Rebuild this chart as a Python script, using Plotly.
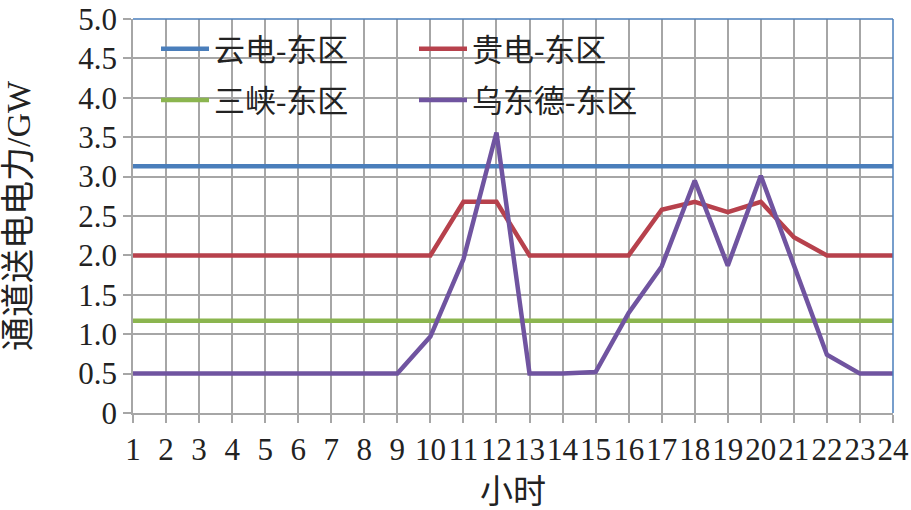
import plotly.graph_objects as go

hours = list(range(1, 25))
yundian = [3.13] * 24
guidian = [2.0, 2.0, 2.0, 2.0, 2.0, 2.0, 2.0, 2.0, 2.0, 2.0, 2.68, 2.68,
           2.0, 2.0, 2.0, 2.0, 2.58, 2.68, 2.55, 2.68, 2.23, 2.0, 2.0, 2.0]
sanxia = [1.17] * 24
wudongde = [0.5, 0.5, 0.5, 0.5, 0.5, 0.5, 0.5, 0.5, 0.5, 0.97, 1.95, 3.56,
            0.5, 0.5, 0.52, 1.27, 1.86, 2.95, 1.87, 3.01, 1.86, 0.74, 0.5, 0.5]
y_ticks = [0, 0.5, 1.0, 1.5, 2.0, 2.5, 3.0, 3.5, 4.0, 4.5, 5.0]
y_ticktext = ["0", "0.5", "1.0", "1.5", "2.0", "2.5", "3.0", "3.5", "4.0", "4.5", "5.0"]

names = ["云电-东区", "贵电-东区", "三峡-东区", "乌东德-东区"]
colors = ["#4a7ebb", "#b7414c", "#8bb54f", "#7054a0"]
series = [yundian, guidian, sanxia, wudongde]
legend_ids = ["legend", "legend2", "legend", "legend2"]

FONT = "Times New Roman, Noto Sans CJK SC"
TXT = "#222222"

fig = go.Figure()
for name, col, vals, lg in zip(names, colors, series, legend_ids):
    fig.add_trace(go.Scatter(
        x=hours, y=vals, mode="lines", name=name,
        line=dict(color=col, width=4.5),
        legend=lg, legendgroup=name, cliponaxis=False,
    ))

# plot-area frame: top and right edges in blue
fig.add_shape(type="line", xref="paper", yref="paper", x0=0, x1=1, y0=1, y1=1,
              line=dict(color="#4a7ebb", width=1.5), layer="above")
fig.add_shape(type="line", xref="paper", yref="paper", x0=1, x1=1, y0=0, y1=1,
              line=dict(color="#4a7ebb", width=1.5), layer="above")
# white legend background box hiding gridlines
fig.add_shape(type="rect", xref="paper", yref="paper",
              x0=(150 - 133) / 760, x1=(692 - 133) / 760,
              y0=(413 - 125) / 394, y1=(413 - 22) / 394,
              fillcolor="white", line=dict(width=0), layer="between")

legend_common = dict(
    font=dict(family=FONT, size=31, color=TXT),
    bgcolor="rgba(0,0,0,0)", borderwidth=0,
    orientation="v", traceorder="grouped", tracegroupgap=8,
    itemwidth=48, xanchor="left", yanchor="top",
)

fig.update_layout(
    width=911, height=510,
    margin=dict(l=133, r=18, t=19, b=97, autoexpand=False),
    paper_bgcolor="white", plot_bgcolor="white",
    font=dict(family=FONT, size=30, color=TXT),
    showlegend=True,
    legend=dict(x=(156 - 133) / 760, y=(413 - 22) / 394, **legend_common),
    legend2=dict(x=(414 - 133) / 760, y=(413 - 22) / 394, **legend_common),
    xaxis=dict(
        range=[1, 24], tickmode="array", tickvals=hours,
        ticktext=[str(h) for h in hours], tickangle=0, automargin=False,
        showgrid=True, gridcolor="#a6a6a6", gridwidth=1.5,
        showline=True, linecolor="#a6a6a6", linewidth=1.5,
        ticks="outside", ticklen=8, tickcolor="#a6a6a6", tickwidth=1.5,
        tickfont=dict(family=FONT, size=31, color=TXT),
        title=dict(text="小时", font=dict(family=FONT, size=33, color=TXT), standoff=16),
        zeroline=False,
    ),
    yaxis=dict(
        range=[0, 5], tickmode="array", tickvals=y_ticks, ticktext=y_ticktext,
        automargin=False,
        showgrid=True, gridcolor="#a6a6a6", gridwidth=1.5,
        showline=True, linecolor="#a6a6a6", linewidth=1.5,
        ticks="outside", ticklen=8, tickcolor="#a6a6a6", tickwidth=1.5,
        tickfont=dict(family=FONT, size=31, color=TXT),
        title=dict(text="通道送电电力/GW", font=dict(family=FONT, size=34, color=TXT), standoff=44),
        zeroline=False,
    ),
)

fig.write_html("out.html", config={"displayModeBar": False},
               post_script="document.body.style.margin='0';")
